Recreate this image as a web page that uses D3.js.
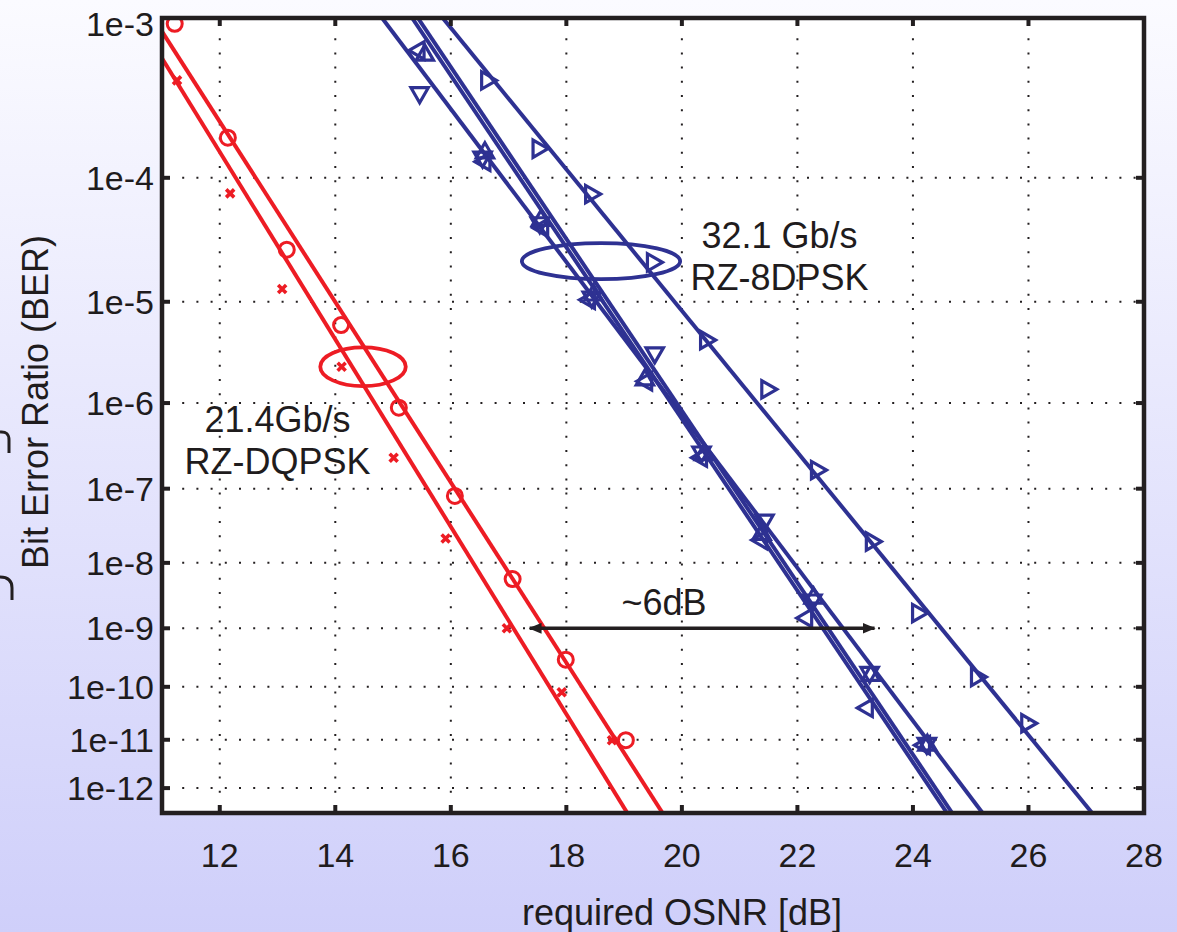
<!DOCTYPE html>
<html>
<head>
<meta charset="utf-8">
<title>BER vs required OSNR</title>
<script src="https://d3js.org/d3.v7.min.js"></script>
<style>
  body { margin: 0; }
  text { font-family: "Liberation Sans", Arial, sans-serif; fill: #1f1c1d; }
  .grid line { stroke: #231f20; stroke-width: 2; stroke-dasharray: 2,12.2; }
</style>
</head>
<body>
<svg id="chart" width="1177" height="932"></svg>
<script>
// axis ticks
const osnrTicks = [12, 14, 16, 18, 20, 22, 24, 26, 28];
const berTicks = [1e-3, 1e-4, 1e-5, 1e-6, 1e-7, 1e-8, 1e-9, 1e-10, 1e-11, 1e-12];
const berLabels = ["1e-3", "1e-4", "1e-5", "1e-6", "1e-7", "1e-8", "1e-9", "1e-10", "1e-11", "1e-12"];

// 21.4 Gb/s RZ-DQPSK, circles
const dqpskCircleOsnr = [11.22, 12.14, 13.16, 14.10, 15.10, 16.07, 17.07, 17.99, 19.03];
const dqpskCircleBer = [9.3e-4, 1.9e-4, 2.8e-5, 6.1e-6, 8.9e-7, 8.1e-8, 5.8e-9, 3.0e-10, 9.8e-12];
const dqpskCircleFit = [[10.85, 1e-3], [19.39, 1e-12]];

// 21.4 Gb/s RZ-DQPSK, crosses
const dqpskCrossOsnr = [11.26, 12.18, 13.08, 14.11, 15.01, 15.91, 16.97, 17.92, 18.79];
const dqpskCrossBer = [4.4e-4, 7.7e-5, 1.3e-5, 2.4e-6, 2.4e-7, 2.2e-8, 1.0e-9, 8.0e-11, 9.8e-12];
const dqpskCrossFit = [[10.57, 1e-3], [18.79, 1e-12]];

// 32.1 Gb/s RZ-8DPSK
const dpskDownOsnr = [15.46, 16.55, 17.54, 18.44, 19.53, 20.34, 21.43, 22.26, 23.25, 24.24];
const dpskDownBer = [3.7e-4, 1.4e-4, 4.6e-5, 1.1e-5, 3.3e-6, 2.8e-7, 3.9e-8, 2.8e-9, 1.8e-10, 8.5e-12];
const dpskDownFit = [[14.81, 1e-3], [24.88, 1e-12]];

const dpskUpOsnr = [15.55, 16.59, 17.56, 18.47, 19.36, 20.38, 21.38, 22.28, 23.27, 24.25];
const dpskUpBer = [6.2e-4, 1.5e-4, 4.8e-5, 1.15e-5, 1.76e-6, 2.6e-7, 2.5e-8, 3.0e-9, 1.6e-10, 7.8e-12];
const dpskUpFit = [[15.33, 1e-3], [24.30, 1e-12]];

const dpskLeftOsnr = [15.45, 16.59, 17.59, 18.40, 19.39, 20.34, 21.38, 22.16, 23.21, 24.20];
const dpskLeftBer = [6.6e-4, 1.3e-4, 4.2e-5, 1.04e-5, 1.7e-6, 2.4e-7, 2.1e-8, 1.46e-9, 4.1e-11, 7.8e-12];
const dpskLeftFit = [[15.43, 1e-3], [24.39, 1e-12]];

const dpskRightOsnr = [16.62, 17.51, 18.42, 19.49, 20.41, 21.47, 22.33, 23.28, 24.08, 25.10, 25.97];
const dpskRightBer = [4.4e-4, 1.6e-4, 7.6e-5, 2.2e-5, 4.4e-6, 1.4e-6, 1.7e-7, 2.0e-8, 1.75e-9, 1.5e-10, 2.1e-11];
const dpskRightFit = [[15.86, 1e-3], [26.75, 1e-12]];

// annotations (centre osnr, half width dB, ber top, ber centre, ber bottom)
const dqpskEllipse = [14.48, 0.74, 3.7e-6, 2.4e-6, 1.5e-6];
const dpskEllipse = [18.60, 1.37, 3.2e-5, 2.25e-5, 1.6e-5];
const penaltyArrow = [17.33, 23.37, 1e-9];

const red = "#ed1c24";
const blue = "#2e3192";

const svg = d3.select("#chart");
const margin = {left: 162, right: 1144, top: 18, bottom: 813};

// background gradient
const defs = svg.append("defs");
const grad = defs.append("linearGradient").attr("id", "bg")
    .attr("x1", 0).attr("y1", 0).attr("x2", 0).attr("y2", 1);
grad.append("stop").attr("offset", "0%").attr("stop-color", "#fbfbff");
grad.append("stop").attr("offset", "100%").attr("stop-color", "#cfcffa");
svg.append("rect").attr("width", 1177).attr("height", 932).attr("fill", "url(#bg)");

defs.append("clipPath").attr("id", "plotclip")
    .append("rect").attr("x", margin.left).attr("y", margin.top)
    .attr("width", margin.right - margin.left).attr("height", margin.bottom - margin.top);

["arrowEnd", "arrowStart"].forEach((id, i) => {
    defs.append("marker").attr("id", id)
        .attr("viewBox", "0 -5 12 10").attr("refX", 11).attr("refY", 0)
        .attr("markerWidth", 13).attr("markerHeight", 11)
        .attr("markerUnits", "userSpaceOnUse")
        .attr("orient", i === 0 ? "auto" : "auto-start-reverse")
        .append("path").attr("d", "M0,-5L12,0L0,5Z").attr("fill", "#231f20");
});

// scales: x linear, y log of -log10(BER)
const x = d3.scaleLinear().domain([11, 28]).range([margin.left, margin.right]);
const yq = d3.scaleLog().domain([3, 12.55]).range([margin.top, margin.bottom]);
const y = ber => yq(-Math.log10(ber));

svg.append("rect").attr("x", margin.left).attr("y", margin.top)
    .attr("width", margin.right - margin.left).attr("height", margin.bottom - margin.top)
    .attr("fill", "#fff");

// grid
const grid = svg.append("g").attr("class", "grid");
grid.selectAll(".gx").data(osnrTicks.filter(d => d < 28)).join("line")
    .attr("x1", d => x(d)).attr("x2", d => x(d))
    .attr("y1", margin.top + 6).attr("y2", margin.bottom);
grid.selectAll(".gy").data(berTicks.slice(1)).join("line")
    .attr("y1", d => y(d)).attr("y2", d => y(d))
    .attr("x1", margin.left + 6).attr("x2", margin.right);

// fit lines
const plot = svg.append("g").attr("clip-path", "url(#plotclip)");
function fitEnds(fit) {
    const u = d => Math.log10(-Math.log10(d[1]));
    const [p, q] = fit;
    const k = (q[0] - p[0]) / (u(q) - u(p));
    const at = n => p[0] + (Math.log10(n) - u(p)) * k;
    const [n0, n1] = yq.domain();
    return [[x(at(n0)), yq(n0)], [x(at(n1)), yq(n1)]];
}
const fits = [
    [dqpskCircleFit, red], [dqpskCrossFit, red],
    [dpskDownFit, blue], [dpskUpFit, blue], [dpskLeftFit, blue], [dpskRightFit, blue]
];
plot.selectAll(".fit").data(fits).join("path")
    .attr("d", d => d3.line()(fitEnds(d[0])))
    .attr("fill", "none").attr("stroke", d => d[1]).attr("stroke-width", 4);

// markers
const zip = (xs, ys) => xs.map((v, i) => [v, ys[i]]);
plot.selectAll(".circ").data(zip(dqpskCircleOsnr, dqpskCircleBer)).join("circle")
    .attr("cx", d => x(d[0])).attr("cy", d => y(d[1])).attr("r", 7.5)
    .attr("fill", "none").attr("stroke", red).attr("stroke-width", 3);

plot.selectAll(".cross").data(zip(dqpskCrossOsnr, dqpskCrossBer)).join("path")
    .attr("transform", d => `translate(${x(d[0])},${y(d[1])})`)
    .attr("d", "M-4,-4L4,4M-4,4L4,-4")
    .attr("stroke", red).attr("stroke-width", 3.6).attr("fill", "none");

const tri = d3.symbol().type(d3.symbolTriangle).size(130)();
const triSeries = [
    [dpskDownOsnr, dpskDownBer, 180],
    [dpskUpOsnr, dpskUpBer, 0],
    [dpskLeftOsnr, dpskLeftBer, -90],
    [dpskRightOsnr, dpskRightBer, 90]
];
triSeries.forEach(([xs, ys, rot]) => {
    plot.append("g").selectAll("path").data(zip(xs, ys)).join("path")
        .attr("transform", d => `translate(${x(d[0])},${y(d[1])}) rotate(${rot})`)
        .attr("d", tri)
        .attr("fill", "none").attr("stroke", blue).attr("stroke-width", 3.2);
});

// ellipses
[[dqpskEllipse, red], [dpskEllipse, blue]].forEach(([e, c]) => {
    plot.append("ellipse")
        .attr("cx", x(e[0])).attr("cy", y(e[3]))
        .attr("rx", x(e[0] + e[1]) - x(e[0]))
        .attr("ry", (y(e[4]) - y(e[2])) / 2)
        .attr("fill", "none").attr("stroke", c).attr("stroke-width", 3.8);
});

// ~6dB arrow
plot.append("line")
    .attr("x1", x(penaltyArrow[0]) + 2).attr("x2", x(penaltyArrow[1]) - 2)
    .attr("y1", y(penaltyArrow[2])).attr("y2", y(penaltyArrow[2]))
    .attr("stroke", "#231f20").attr("stroke-width", 3.4)
    .attr("marker-end", "url(#arrowEnd)").attr("marker-start", "url(#arrowStart)");

// text annotations
const annot = svg.append("g").attr("font-size", 36).attr("text-anchor", "middle");
annot.append("text").attr("x", x(19.69))
    .attr("y", y(penaltyArrow[2]) - 13).text("~6dB");
annot.append("text").attr("x", x(13.0)).attr("y", y(9.5e-7) + 27).text("21.4Gb/s");
annot.append("text").attr("x", x(13.0)).attr("y", y(9.5e-7) + 69).text("RZ-DQPSK");
annot.append("text").attr("x", x(21.69)).attr("y", y(4.5e-5) + 24).text("32.1 Gb/s");
annot.append("text").attr("x", x(21.69)).attr("y", y(4.5e-5) + 66).text("RZ-8DPSK");

// frame and ticks
const frame = svg.append("g").attr("stroke", "#231f20").attr("stroke-width", 4);
frame.selectAll(".tb").data(osnrTicks).join("line")
    .attr("x1", d => x(d)).attr("x2", d => x(d))
    .attr("y1", margin.bottom).attr("y2", margin.bottom - 8);
frame.selectAll(".tt").data(osnrTicks).join("line")
    .attr("x1", d => x(d)).attr("x2", d => x(d))
    .attr("y1", margin.top).attr("y2", margin.top + 8);
frame.selectAll(".tl").data(berTicks).join("line")
    .attr("y1", d => y(d)).attr("y2", d => y(d))
    .attr("x1", margin.left).attr("x2", margin.left + 8);
frame.selectAll(".tr").data(berTicks).join("line")
    .attr("y1", d => y(d)).attr("y2", d => y(d))
    .attr("x1", margin.right).attr("x2", margin.right - 8);
frame.append("rect").attr("x", margin.left).attr("y", margin.top)
    .attr("width", margin.right - margin.left).attr("height", margin.bottom - margin.top)
    .attr("fill", "none").attr("stroke-width", 4.5);

// tick labels
svg.append("g").attr("font-size", 34).attr("text-anchor", "middle")
    .selectAll("text").data(osnrTicks).join("text")
    .attr("x", d => x(d)).attr("y", margin.bottom + 54).text(d => d);
svg.append("g").attr("font-size", 34).attr("text-anchor", "end")
    .selectAll("text").data(berTicks).join("text")
    .attr("x", margin.left - 8).attr("y", (d, i) => y(d) + (i === 0 ? 18 : 12))
    .text((d, i) => berLabels[i]);

// axis titles
svg.append("text").attr("font-size", 36).attr("text-anchor", "middle")
    .attr("x", 682).attr("y", 925).text("required OSNR [dB]");
svg.append("text").attr("font-size", 36).attr("text-anchor", "middle")
    .attr("transform", "translate(48,402) rotate(-90)").text("Bit Error Ratio (BER)");

// cropped slide remnants at left edge
svg.append("path").attr("d", "M0,432 Q9,431 9,440 L9,453")
    .attr("fill", "none").attr("stroke", "#231f20").attr("stroke-width", 3);
svg.append("path").attr("d", "M0,577 Q12,577 12,588 L12,600")
    .attr("fill", "none").attr("stroke", "#231f20").attr("stroke-width", 3);
</script>
</body>
</html>
